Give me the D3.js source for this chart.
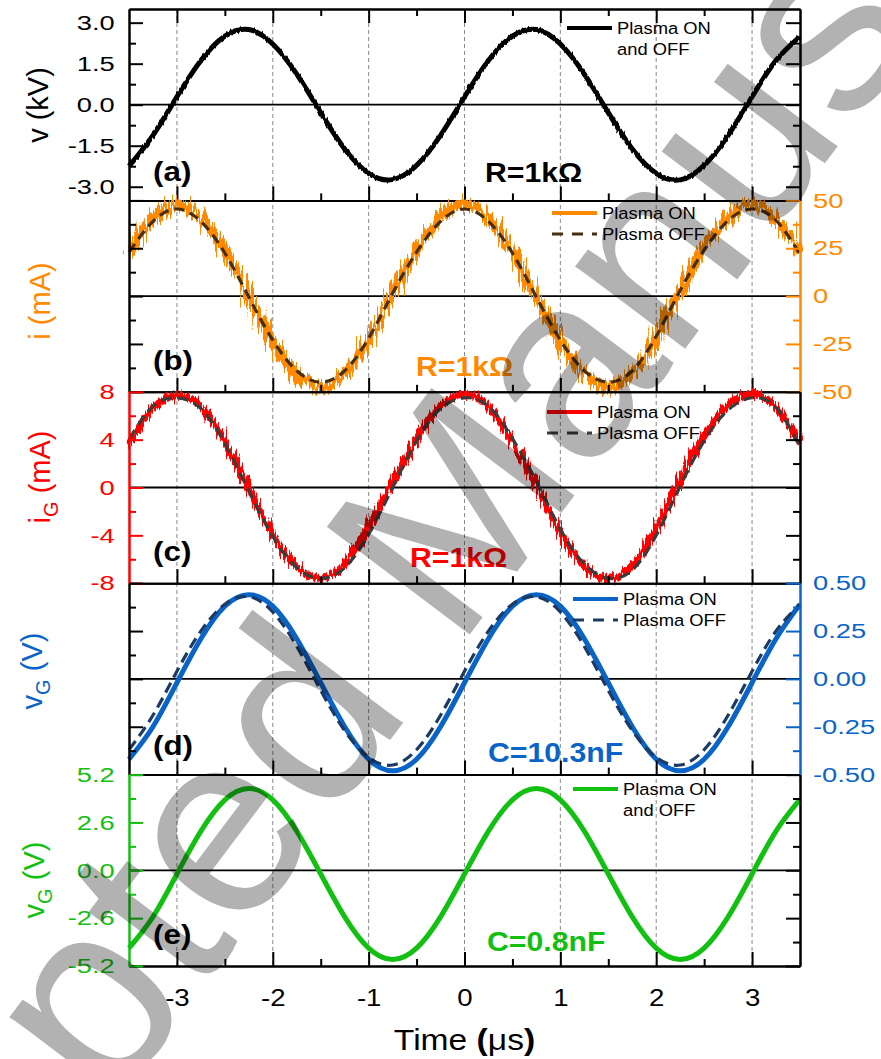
<!DOCTYPE html>
<html>
<head>
<meta charset="utf-8">
<script src="https://cdn.jsdelivr.net/npm/d3@7.9.0/dist/d3.min.js"></script>
<style>
  body { margin: 0; background: #fff; }
  svg { display: block; }
  text { font-family: "Liberation Sans", Arial, sans-serif; }
</style>
</head>
<body>
<svg id="chart" width="881" height="1059"></svg>
<script>
// time samples (µs) shared by every trace
const time = [-3.5,-3.25,-3,-2.75,-2.5,-2.25,-2,-1.75,-1.5,-1.25,-1,-0.75,-0.5,-0.25,0,
  0.25,0.5,0.75,1,1.25,1.5,1.75,2,2.25,2.5,2.75,3,3.25,3.5];

// (a) applied voltage, kV (plasma ON and OFF)
const vKV = [-2.25,-1.12,0.29,1.62,2.51,2.75,2.22,1.12,-0.29,-1.62,-2.51,-2.74,-2.22,-1.12,0.29,
  1.62,2.51,2.75,2.22,1.12,-0.29,-1.62,-2.51,-2.75,-2.22,-1.12,0.29,1.62,2.49];

// (b) discharge current, mA
const iOn = [24,41,48,41,23.5,-0.5,-24,-41,-48,-41,-22.5,2,24,41,48,41,23,-0.5,-24,-41.5,-48,-41,
  -21.5,3.5,25,41.5,48,41,22.5];
const iOff = [23,39,45.5,39,22.5,-0.5,-23,-39,-45,-39,-22,1.5,23,39,45.5,39,22.5,-0.5,-23,-39,-45,
  -39,-21,3,24,39.5,45.5,39.5,22];

// (c) current through R, mA
const iGOn = [3.6,6.6,7.7,6.8,3.9,-0.1,-3.9,-6.6,-7.6,-6.4,-3.3,0.4,4.1,6.8,7.8,6.8,3.8,0.2,-3.8,
  -6.6,-7.6,-6.5,-3.4,0.7,4.3,6.9,7.8,6.7,3.8];
const iGOff = [4.0,6.8,7.5,6.6,3.7,-0.3,-4.1,-6.7,-7.6,-6.7,-3.9,0.0,3.9,6.6,7.5,6.8,4.1,0.5,-3.5,
  -6.4,-7.6,-6.9,-4.0,0.1,3.9,6.5,7.5,6.7,3.4];

// (d) voltage on C = 10.3 nF, V
const vGOn = [-0.42,-0.25,-0.02,0.21,0.38,0.44,0.38,0.21,-0.02,-0.25,-0.42,-0.48,-0.42,-0.25,-0.02,
  0.21,0.38,0.44,0.38,0.21,-0.02,-0.25,-0.42,-0.48,-0.42,-0.25,-0.02,0.21,0.39];
const vGOff = [-0.37,-0.19,0.04,0.25,0.39,0.43,0.35,0.17,-0.06,-0.27,-0.41,-0.45,-0.37,-0.19,0.04,
  0.25,0.39,0.43,0.35,0.17,-0.06,-0.27,-0.41,-0.45,-0.37,-0.19,0.04,0.25,0.39];

// (e) voltage on C = 0.8 nF, V (plasma ON and OFF)
const vGSmall = [-4.23,-2.53,-0.2,2.13,3.83,4.45,3.83,2.13,-0.2,-2.53,-4.23,-4.85,-4.23,-2.53,-0.2,
  2.13,3.83,4.45,3.83,2.13,-0.2,-2.53,-4.23,-4.85,-4.23,-2.53,-0.2,2.13,3.85];

// ticks
const xTicks = [-3,-2,-1,0,1,2,3];
const xMinor = [-2.5,-1.5,-0.5,0.5,1.5,2.5];
const vTicks = [-3,-1.5,0,1.5,3];
const vMinor = [-2.25,-0.75,0.75,2.25];
const iTicks = [-50,-25,0,25,50];
const iMinor = [-37.5,-12.5,12.5,37.5];
const iGTicks = [-8,-4,0,4,8];
const iGMinor = [-6,-2,2,6];
const vGTicks = [-0.5,-0.25,0,0.25,0.5];
const vGMinor = [-0.375,-0.125,0.125,0.375];
const vGSmallTicks = [-5.2,-2.6,0,2.6,5.2];
const vGSmallMinor = [-3.9,-1.3,1.3,3.9];

const ORANGE = '#ff8a00', RED = '#ff0000', BLUE = '#0a64c8', GREEN = '#12c012';

const svg = d3.select('#chart');
const left = 129, right = 800, top0 = 9, panelH = 191.4;
const bottom = top0 + 5 * panelH;
const x = d3.scaleLinear().domain([-3.5, 3.5]).range([left, right]);

const defs = svg.append('defs');
function fuzz(id, amount) {
  const f = defs.append('filter').attr('id', id)
    .attr('x', '-2%').attr('y', '-12%').attr('width', '104%').attr('height', '124%');
  f.append('feTurbulence').attr('type', 'fractalNoise')
    .attr('baseFrequency', '0.5 0.03').attr('numOctaves', 2).attr('seed', 7).attr('result', 'n');
  f.append('feDisplacementMap').attr('in', 'SourceGraphic').attr('in2', 'n')
    .attr('scale', amount).attr('xChannelSelector', 'R').attr('yChannelSelector', 'G');
}
fuzz('fuzzOrange', 24);
fuzz('fuzzRed', 14);
fuzz('fuzzBlack', 3);

function txt(g, px, py, str, o) {
  return g.append('text')
    .attr('transform', `translate(${px},${py}) scale(${o.sx || 1},1)`)
    .attr('font-size', o.size)
    .attr('font-weight', o.bold ? 'bold' : null)
    .attr('fill', o.fill || '#000')
    .attr('text-anchor', o.anchor || 'start')
    .text(str);
}

const panels = [
  { ticks: vTicks, minor: vMinor, fmt: d => d.toFixed(1), side: 'left', color: '#000',
    series: [{ data: vKV, color: '#000', width: 5, filter: 'fuzzBlack' }],
    title: ['v', null, ' (kV)'], titleColor: '#000', titleX: 48, titleY: 105,
    tag: '(a)', tagY: 181, note: 'R=1k\u03a9', noteX: 485, noteY: 182, noteColor: '#000',
    legend: { x: 567, y: 28, items: [{ color: '#000', dash: null, w: 4, text: ['Plasma ON', 'and OFF'] }] } },
  { ticks: iTicks, minor: iMinor, fmt: d => String(d), side: 'right', color: ORANGE,
    series: [{ data: iOn, color: ORANGE, width: 10, filter: 'fuzzOrange' },
             { data: iOff, color: '#4a2e10', width: 3.2, dash: '10,6' }],
    title: ['i', null, ' (mA)'], titleColor: ORANGE, titleX: 50, titleY: 301,
    tag: '(b)', tagY: 370, note: 'R=1k\u03a9', noteX: 416, noteY: 376, noteColor: ORANGE,
    legend: { x: 552, y: 213, items: [{ color: ORANGE, dash: null, w: 4, text: ['Plasma ON'] },
                                      { color: '#4a2e10', dash: '11,9', w: 3, text: ['Plasma OFF'] }] } },
  { ticks: iGTicks, minor: iGMinor, fmt: d => String(d), side: 'left', color: RED,
    series: [{ data: iGOn, color: RED, width: 7, filter: 'fuzzRed' },
             { data: iGOff, color: '#3c3c3c', width: 3.2, dash: '11,6' }],
    title: ['i', 'G', ' (mA)'], titleColor: RED, titleX: 50, titleY: 477,
    tag: '(c)', tagY: 561, note: 'R=1k\u03a9', noteX: 410, noteY: 567, noteColor: RED,
    legend: { x: 547, y: 412, items: [{ color: RED, dash: null, w: 4, text: ['Plasma ON'] },
                                      { color: '#3c3c3c', dash: '11,9', w: 3, text: ['Plasma OFF'] }] } },
  { ticks: vGTicks, minor: vGMinor, fmt: d => d.toFixed(2), side: 'right', color: BLUE,
    series: [{ data: vGOn, color: BLUE, width: 5 },
             { data: vGOff, color: '#1c3a62', width: 3.2, dash: '11,6' }],
    title: ['v', 'G', ' (V)'], titleColor: BLUE, titleX: 42, titleY: 671,
    tag: '(d)', tagY: 755, note: 'C=10.3nF', noteX: 488, noteY: 762, noteColor: BLUE,
    legend: { x: 573, y: 599, items: [{ color: BLUE, dash: null, w: 4, text: ['Plasma ON'] },
                                      { color: '#1c3a62', dash: '11,9', w: 3, text: ['Plasma OFF'] }] } },
  { ticks: vGSmallTicks, minor: vGSmallMinor, fmt: d => d.toFixed(1), side: 'left', color: GREEN,
    series: [{ data: vGSmall, color: GREEN, width: 5 }],
    title: ['v', 'G', ' (V)'], titleColor: GREEN, titleX: 44, titleY: 880,
    tag: '(e)', tagY: 944, note: 'C=0.8nF', noteX: 487, noteY: 951, noteColor: GREEN,
    legend: { x: 573, y: 789, items: [{ color: GREEN, dash: null, w: 4, text: ['Plasma ON', 'and OFF'] }] } }
];

// dashed vertical grid at integer times
svg.append('g').selectAll('line').data(xTicks).join('line')
  .attr('x1', d => x(d)).attr('x2', d => x(d))
  .attr('y1', top0).attr('y2', bottom)
  .attr('stroke', '#8a8a8a').attr('stroke-width', 1).attr('stroke-dasharray', '4,3');

function styleAxis(g, col) {
  g.attr('color', col).attr('font-family', '"Liberation Sans", Arial, sans-serif');
  g.selectAll('path, line').attr('stroke-width', 2);
}

panels.forEach((p, k) => {
  const top = top0 + k * panelH, bot = top + panelH;
  const lo = p.ticks[0], hi = p.ticks[p.ticks.length - 1];
  const dom = k === 0 ? [-3.5, 3.5] : [lo, hi];
  const y = d3.scaleLinear().domain(dom).range([bot, top]);
  const g = svg.append('g');

  // zero line
  g.append('line').attr('x1', left).attr('x2', right).attr('y1', y(0)).attr('y2', y(0))
    .attr('stroke', '#000').attr('stroke-width', 1.8);

  // traces, plasma ON drawn first, OFF dashed on top
  const line = d3.line().x((d, i) => x(time[i])).y(d => y(d)).curve(d3.curveNatural);
  p.series.forEach(s => {
    g.append('path').datum(s.data).attr('d', line)
      .attr('fill', 'none').attr('stroke', s.color).attr('stroke-width', s.width)
      .attr('stroke-dasharray', s.dash || null)
      .attr('filter', s.filter ? `url(#${s.filter})` : null);
  });

  // x axes: bottom of every panel, top of the first
  const xb = g.append('g').attr('transform', `translate(0,${bot})`)
    .call(d3.axisBottom(x).tickValues(xTicks).tickSizeInner(-14).tickSizeOuter(0)
      .tickPadding(24).tickFormat(k === 4 ? (d => String(d)) : ''));
  styleAxis(xb, '#000');
  xb.selectAll('text').attr('font-size', 23).attr('transform', 'scale(1.2,1)');
  const xbm = g.append('g').attr('transform', `translate(0,${bot})`)
    .call(d3.axisBottom(x).tickValues(xMinor).tickSizeInner(-7).tickSizeOuter(0).tickFormat(''));
  styleAxis(xbm, '#000');
  if (k === 0) {
    const xt = g.append('g').attr('transform', `translate(0,${top})`)
      .call(d3.axisTop(x).tickValues(xTicks).tickSizeInner(-14).tickSizeOuter(0).tickFormat(''));
    styleAxis(xt, '#000');
    const xtm = g.append('g').attr('transform', `translate(0,${top})`)
      .call(d3.axisTop(x).tickValues(xMinor).tickSizeInner(-7).tickSizeOuter(0).tickFormat(''));
    styleAxis(xtm, '#000');
  }

  // y axes
  const sides = [['left', left, d3.axisLeft], ['right', right, d3.axisRight]];
  sides.forEach(([side, pos, fn]) => {
    const main = side === p.side;
    const col = main ? p.color : '#000';
    const ay = g.append('g').attr('transform', `translate(${pos},0)`)
      .call(fn(y).tickValues(p.ticks).tickSizeInner(-14).tickSizeOuter(0)
        .tickPadding(side === 'left' ? 11 : 10).tickFormat(main ? p.fmt : ''));
    styleAxis(ay, col);
    ay.selectAll('text').attr('font-size', 21).attr('transform', 'scale(1.3,1)');
    const am = g.append('g').attr('transform', `translate(${pos},0)`)
      .call(fn(y).tickValues(p.minor).tickSizeInner(-7).tickSizeOuter(0).tickFormat(''));
    styleAxis(am, col);
  });

  // axis title
  const t = g.append('text')
    .attr('transform', `translate(${p.titleX},${p.titleY}) rotate(-90)`)
    .attr('text-anchor', 'middle').attr('font-size', 29).attr('fill', p.titleColor);
  t.append('tspan').text(p.title[0]);
  if (p.title[1]) {
    t.append('tspan').attr('font-size', 20).attr('dy', 8).text(p.title[1]);
    t.append('tspan').attr('dy', -8).text(p.title[2]);
  } else {
    t.append('tspan').text(p.title[2]);
  }

  // panel tag and component note
  txt(g, 153, p.tagY, p.tag, { size: 28, bold: true, sx: 1.12 });
  txt(g, p.noteX, p.noteY, p.note, { size: 27, bold: true, sx: 1.12, fill: p.noteColor });

  // legend
  p.legend.items.forEach((it, j) => {
    const ly = p.legend.y + j * 21;
    g.append('line').attr('x1', p.legend.x).attr('x2', p.legend.x + 45)
      .attr('y1', ly).attr('y2', ly)
      .attr('stroke', it.color).attr('stroke-width', it.w).attr('stroke-dasharray', it.dash);
    it.text.forEach((s, m) => {
      txt(g, p.legend.x + 50, ly + 6 + m * 21, s, { size: 17, sx: 1.08 });
    });
  });
});

// x axis title
const xt = svg.append('text')
  .attr('transform', `translate(${x(0)},1050) scale(1.12,1)`)
  .attr('text-anchor', 'middle').attr('font-size', 30);
xt.append('tspan').text('Time ');
xt.append('tspan').attr('font-weight', 'bold').text('(');
xt.append('tspan').text('\u03bcs');
xt.append('tspan').attr('font-weight', 'bold').text(')');

// watermark of the accepted manuscript
svg.append('text')
  .attr('transform', 'translate(-239,1575) rotate(-53)')
  .attr('font-family', '"Liberation Serif", "DejaVu Serif", serif')
  .attr('font-size', 260).attr('fill', '#000').attr('fill-opacity', 0.3)
  .text('Accepted Manuscript');
</script>
</body>
</html>
